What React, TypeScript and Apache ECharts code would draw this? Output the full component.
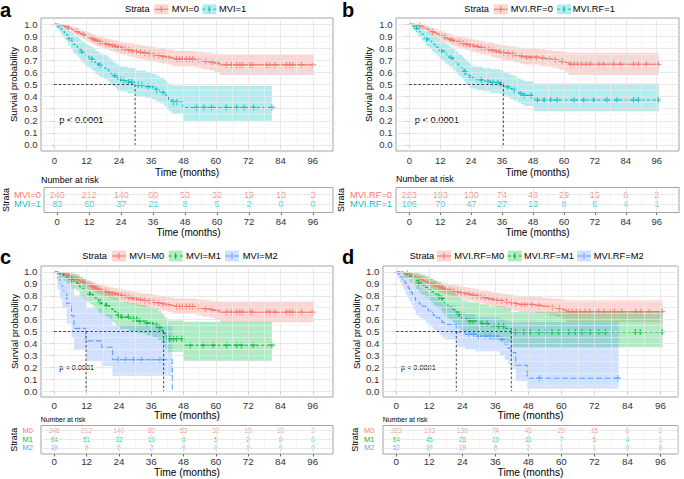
import React, { useEffect, useRef } from 'react';
import * as echarts from 'echarts';

type Row = [number, number, number, number]; // time, survival, lower CI, upper CI

const FONT = '"Liberation Sans", Arial, Helvetica, sans-serif';
const RED = '#F8766D';
const TEAL = '#00BFC4';
const GREEN = '#00BA38';
const BLUE = '#619CFF';

const timeTicks = [0, 12, 24, 36, 48, 60, 72, 84, 96];
const timeMinor = [6, 18, 30, 42, 54, 66, 78, 90, 102];
const probTicks = [0, 0.1, 0.2, 0.3, 0.4, 0.5, 0.6, 0.7, 0.8, 0.9, 1.0];
const probMinor = [0.05, 0.15, 0.25, 0.35, 0.45, 0.55, 0.65, 0.75, 0.85, 0.95];

// ---------- Kaplan-Meier estimates ----------
const kmMvi0: Row[] = [
  [0, 1, 1, 1], [1.2, .996, .988, 1], [2.1, .992, .981, 1], [3.0, .988, .975, 1],
  [3.8, .980, .963, .997], [4.7, .972, .952, .992], [5.5, .963, .940, .986], [6.3, .955, .930, .980],
  [7.2, .946, .919, .974], [8.0, .938, .909, .968], [8.9, .929, .898, .961], [9.6, .921, .888, .955],
  [10.5, .912, .877, .948], [11.3, .904, .868, .941], [12.1, .895, .858, .934], [13.0, .886, .848, .926],
  [13.8, .878, .839, .919], [14.6, .869, .829, .911], [15.5, .860, .819, .903], [16.3, .852, .810, .896],
  [17.4, .845, .802, .890], [18.6, .838, .794, .884], [19.7, .831, .786, .878], [20.8, .824, .778, .872],
  [22.0, .816, .769, .866], [23.3, .809, .761, .860], [24.5, .802, .753, .854], [25.7, .795, .745, .848],
  [27.0, .788, .737, .842], [28.4, .780, .728, .836], [29.9, .773, .720, .830], [31.3, .766, .712, .824],
  [33.0, .760, .705, .819], [34.8, .754, .698, .814], [36.5, .747, .690, .808], [38.2, .740, .682, .802],
  [39.9, .733, .674, .796], [41.6, .726, .666, .790], [43.4, .718, .657, .784], [44.6, .710, .648, .777],
  [52.5, .700, .636, .770], [55.0, .692, .626, .764], [57.8, .684, .616, .758], [59.6, .676, .604, .754],
  [61.5, .662, .578, .750], [96.4, .662, .578, .750],
];
const censMvi0 = [5.2, 8.5, 10.9, 14.2, 15.0, 16.0, 17.0, 18.2, 19.2, 20.3, 21.5, 22.6, 23.8, 25.0, 26.3,
  27.6, 29.0, 30.5, 32.0, 33.6, 35.2, 37.0, 38.8, 40.4, 42.2, 45.4, 46.5, 47.6, 49.0, 50.2, 51.3, 53.8,
  56.2, 58.6, 60.4, 63.9, 65.8, 67.7, 68.9, 69.8, 72.6, 73.5, 78.8, 80.0, 82.0, 86.2, 87.4, 88.6, 91.8, 96.1];

const kmMvi1: Row[] = [
  [0, 1, 1, 1], [0.7, .988, .966, 1], [1.3, .976, .948, 1], [2.0, .964, .930, 1],
  [2.6, .952, .912, .994], [3.2, .940, .896, .986], [3.7, .928, .880, .978], [4.3, .916, .864, .970],
  [4.8, .904, .849, .962], [5.2, .880, .819, .945], [5.9, .868, .804, .936], [6.5, .855, .789, .927],
  [7.0, .831, .760, .908], [7.8, .819, .746, .899], [8.6, .807, .732, .890], [9.2, .795, .718, .880],
  [9.8, .771, .691, .861], [10.6, .759, .677, .851], [11.4, .747, .664, .841], [12.0, .735, .651, .831],
  [12.8, .722, .637, .820], [13.6, .710, .624, .810], [14.4, .698, .611, .799], [15.2, .673, .585, .777],
  [16.4, .661, .572, .766], [17.0, .649, .560, .755], [18.2, .636, .546, .744], [19.4, .624, .534, .733],
  [20.2, .611, .520, .721], [20.8, .598, .507, .709], [21.3, .585, .494, .697], [22.0, .572, .481, .685],
  [22.8, .559, .468, .673], [23.4, .546, .455, .661], [24.6, .533, .442, .649], [27.2, .520, .428, .637],
  [30.0, .497, .405, .615], [34.0, .483, .391, .602], [36.4, .468, .375, .588], [37.8, .453, .360, .574],
  [39.2, .436, .343, .558], [40.8, .416, .322, .540], [41.6, .396, .302, .522], [42.4, .376, .282, .505],
  [43.6, .354, .260, .492], [47.8, .310, .200, .488], [80.8, .310, .200, .488],
];
const censMvi1 = [5.8, 10.1, 13.9, 16.9, 22.5, 24.4, 25.8, 27.6, 28.7, 31.2, 32.5, 34.8, 36.1, 38.0, 40.4,
  44.2, 45.5, 52.8, 55.5, 58.4, 63.9, 67.7, 70.5, 74.0, 80.8];

const kmRf0: Row[] = [
  [0, 1, 1, 1], [1.5, .995, .986, 1], [2.6, .991, .978, 1], [3.6, .986, .970, 1],
  [4.5, .982, .964, 1], [5.3, .973, .952, .994], [6.2, .964, .940, .988], [7.0, .955, .929, .982],
  [7.8, .946, .918, .975], [8.6, .937, .906, .968], [9.5, .928, .896, .961], [10.5, .919, .885, .954],
  [11.5, .910, .874, .947], [12.4, .901, .864, .940], [13.3, .892, .853, .933], [14.3, .883, .843, .926],
  [15.3, .874, .833, .918], [16.2, .865, .822, .911], [17.4, .856, .812, .904], [18.8, .850, .805, .898],
  [20.2, .841, .795, .891], [21.6, .834, .787, .885], [23.0, .827, .779, .879], [24.3, .820, .771, .873],
  [25.8, .813, .763, .867], [27.2, .806, .755, .861], [28.7, .799, .747, .855], [30.2, .792, .739, .849],
  [31.6, .784, .730, .843], [33.0, .777, .722, .837], [34.5, .770, .714, .831], [35.8, .762, .705, .825],
  [37.4, .757, .699, .820], [39.2, .751, .692, .815], [41.0, .743, .683, .809], [42.8, .735, .674, .802],
  [44.5, .727, .665, .796], [50.5, .719, .655, .790], [53.0, .711, .645, .784], [55.5, .702, .634, .778],
  [58.0, .693, .622, .772], [60.5, .682, .606, .767], [61.8, .667, .578, .762], [96.8, .667, .578, .762],
];
const censRf0 = [4.0, 9.0, 13.8, 15.8, 16.8, 17.9, 19.4, 20.9, 22.3, 23.6, 25.0, 26.5, 27.9, 29.4, 30.9,
  32.3, 33.7, 35.1, 36.6, 38.3, 40.1, 41.9, 43.6, 45.5, 46.8, 48.0, 49.3, 51.8, 54.2, 56.7, 59.3, 62.6,
  63.9, 65.4, 66.7, 68.6, 70.3, 73.5, 75.4, 78.0, 79.3, 81.9, 87.0, 88.9, 92.0, 96.6];

const kmRf1: Row[] = [
  [0, 1, 1, 1], [0.8, .991, .972, 1], [1.5, .981, .955, 1], [2.2, .972, .940, 1],
  [2.8, .962, .926, 1], [3.4, .943, .900, .989], [4.2, .934, .888, .982], [4.9, .915, .864, .968],
  [5.6, .896, .841, .954], [6.4, .877, .818, .940], [7.2, .868, .807, .933], [8.0, .858, .795, .925],
  [8.7, .839, .773, .910], [9.6, .829, .762, .902], [10.4, .810, .740, .887], [11.2, .800, .729, .879],
  [12.0, .781, .708, .863], [12.9, .771, .697, .855], [13.8, .752, .676, .839], [14.6, .742, .665, .830],
  [15.5, .723, .645, .814], [16.4, .713, .634, .805], [17.2, .694, .614, .789], [18.0, .675, .594, .772],
  [18.9, .655, .573, .754], [19.8, .645, .563, .745], [20.6, .626, .543, .728], [21.3, .606, .523, .710],
  [22.0, .587, .503, .692], [22.8, .577, .493, .683], [23.6, .558, .474, .665], [24.6, .548, .464, .656],
  [26.2, .538, .454, .646], [28.4, .528, .443, .637], [31.5, .517, .432, .627], [35.2, .507, .421, .617],
  [36.5, .494, .408, .605], [38.0, .480, .393, .592], [39.3, .466, .379, .579], [40.6, .452, .365, .566],
  [41.9, .438, .351, .553], [43.2, .424, .337, .540], [44.6, .410, .322, .527], [48.4, .372, .278, .508],
  [96.8, .372, .278, .508],
];
const censRf1 = [2.8, 6.7, 12.5, 16.3, 21.5, 24.0, 27.9, 30.5, 32.4, 34.3, 35.6, 38.2, 40.7, 43.3, 44.6,
  47.2, 49.7, 52.3, 54.9, 57.4, 63.9, 67.7, 71.6, 76.7, 80.6, 87.0, 88.9, 96.6];

const kmM1: Row[] = [
  [0, 1, 1, 1], [1.8, .984, .954, 1], [3.4, .969, .927, 1], [4.6, .953, .903, 1],
  [6.0, .938, .881, .998], [6.8, .922, .860, .988], [8.2, .906, .839, .978], [9.4, .875, .800, .957],
  [10.6, .859, .781, .946], [11.5, .844, .763, .934], [12.0, .828, .745, .922], [13.2, .812, .727, .910],
  [14.4, .797, .709, .898], [15.3, .781, .692, .886], [16.4, .750, .657, .861], [17.4, .734, .640, .848],
  [19.0, .718, .623, .835], [20.5, .702, .606, .822], [21.4, .686, .589, .809], [22.0, .670, .572, .795],
  [22.8, .654, .555, .781], [23.6, .637, .537, .767], [24.2, .621, .520, .752], [27.6, .604, .503, .738],
  [31.0, .587, .485, .723], [34.2, .570, .467, .708], [36.6, .552, .448, .692], [38.6, .533, .428, .675],
  [39.8, .511, .405, .655], [40.6, .487, .380, .634], [41.2, .463, .355, .613], [41.8, .439, .330, .592],
  [48.0, .385, .255, .582], [80.8, .385, .255, .582],
];
const censM1 = [6.4, 13.2, 17.0, 19.4, 23.8, 25.0, 27.5, 29.3, 30.5, 31.8, 34.3, 36.1, 38.0, 39.2, 42.9,
  44.2, 45.4, 47.3, 50.5, 55.3, 59.0, 64.0, 67.7, 69.5, 73.9, 80.8];

const kmM2: Row[] = [
  [0, 1, 1, 1], [1.2, .947, .852, 1], [2.1, .895, .774, 1], [3.0, .842, .700, 1],
  [4.6, .737, .568, .955], [6.4, .632, .450, .887], [7.3, .526, .345, .803], [11.8, .421, .255, .695],
  [17.6, .368, .210, .645], [21.6, .263, .128, .555], [43.8, 0, .128, .555],
];
const censM2 = [23.8, 26.5, 29.5, 32.4, 36.1, 39.2];

const kmRfM1: Row[] = [
  [0, 1, 1, 1], [2.6, .981, .946, 1], [4.8, .963, .914, 1], [6.2, .944, .884, 1],
  [7.2, .926, .857, .999], [7.9, .907, .832, .989], [9.0, .889, .808, .978], [10.6, .870, .784, .966],
  [11.8, .852, .761, .954], [12.8, .833, .739, .940], [13.6, .815, .717, .927], [14.8, .796, .696, .913],
  [16.2, .778, .675, .899], [16.8, .759, .654, .884], [17.4, .741, .634, .869], [18.1, .722, .614, .855],
  [19.2, .703, .594, .840], [20.6, .684, .574, .825], [21.6, .665, .554, .810], [22.2, .646, .534, .794],
  [23.0, .627, .515, .778], [23.8, .608, .495, .762], [26.2, .588, .475, .746], [30.4, .567, .453, .729],
  [33.6, .546, .431, .712], [39.8, .524, .408, .694], [41.8, .496, .368, .665], [96.8, .496, .368, .665],
];
const censRfM1 = [8.1, 15.4, 16.6, 22.7, 26.8, 27.9, 31.2, 33.0, 36.0, 37.2, 39.0, 43.3, 46.3, 48.7, 51.8,
  54.2, 56.6, 59.0, 62.7, 65.1, 67.5, 70.5, 73.6, 76.0, 86.9, 88.7, 96.6];

const kmRfM2: Row[] = [
  [0, 1, 1, 1], [0.6, .981, .944, 1], [1.3, .962, .911, 1], [2.0, .942, .881, 1],
  [2.6, .923, .852, 1], [3.2, .904, .826, .989], [3.7, .885, .800, .978], [4.3, .865, .775, .966],
  [4.8, .846, .751, .953], [5.4, .827, .727, .940], [5.9, .808, .704, .926], [6.5, .788, .681, .912],
  [7.0, .750, .637, .883], [8.4, .731, .616, .868], [9.6, .712, .595, .852], [10.8, .692, .574, .836],
  [11.6, .673, .553, .820], [12.6, .654, .533, .803], [13.5, .635, .513, .787], [14.6, .615, .492, .770],
  [15.8, .596, .472, .753], [16.6, .577, .453, .736], [17.4, .558, .433, .718], [21.8, .496, .370, .665],
  [25.0, .476, .350, .647], [28.8, .461, .335, .620], [37.6, .432, .303, .600], [39.4, .396, .262, .590],
  [40.6, .360, .222, .585], [41.6, .324, .185, .580], [43.4, .216, .085, .578], [47.6, .108, .022, .580],
  [80.8, .108, .022, .580],
];
const censRfM2 = [26.3, 28.1, 29.9, 32.4, 34.2, 36.0, 38.4, 52.0, 80.6];

// ---------- Number at risk ----------
const riskMvi0 = [246, 212, 140, 80, 53, 32, 19, 10, 3];
const riskMvi1 = [83, 60, 37, 21, 8, 5, 2, 0, 0];
const riskRf0 = [223, 193, 130, 74, 48, 29, 15, 6, 2];
const riskRf1 = [106, 79, 47, 27, 13, 8, 6, 4, 1];
const riskM0 = [246, 212, 140, 80, 53, 32, 19, 10, 3];
const riskM1 = [64, 51, 32, 19, 8, 5, 2, 0, 0];
const riskM2 = [19, 9, 5, 2, 0, 0, 0, 0, 0];
const riskRfM0 = [223, 193, 130, 74, 48, 29, 15, 6, 2];
const riskRfM1 = [54, 45, 28, 19, 11, 7, 5, 4, 1];
const riskRfM2 = [52, 34, 19, 8, 2, 1, 1, 0, 0];

const DASH2 = [3, 2.5];
const DASH3 = [6, 2.5];
const PLUS = 'path://M4,0H6V4H10V6H6V10H4V6H0V4H4Z';

interface CurveDef { name: string; label: string; rows: Row[]; censor: number[]; risk: number[]; color: string; dash: number[] | null; }
interface Box { left: number; top: number; width: number; height: number; }
interface PanelDef {
  letter: string; letterX: number; letterY: number;
  plot: Box; xMin: number; xMax: number; table: Box; tMin: number; tMax: number;
  curves: CurveDef[]; small: boolean;
  yNameGap: number; xNameGap: number; xLabelMargin: number; tLabelMargin: number; tNameGap: number;
  strataGap: number; rowLabelMargin: number;
  pval: [number, number]; nar: [number, number];
  legendY: number; strataX: number; keyX: number[]; labelX: number[]; keyH: number;
}

const panels: PanelDef[] = [
  {
    letter: 'a', letterX: 0, letterY: 10,
    plot: { left: 41, top: 18, width: 292, height: 133 }, xMin: -4.94, xMax: 103.5,
    table: { left: 41, top: 187.5, width: 292, height: 25 }, tMin: 0.105, tMax: 2.737,
    curves: [
      { name: 'MVI=0', label: 'MVI=0', rows: kmMvi0, censor: censMvi0, risk: riskMvi0, color: RED, dash: null },
      { name: 'MVI=1', label: 'MVI=1', rows: kmMvi1, censor: censMvi1, risk: riskMvi1, color: TEAL, dash: DASH2 },
    ],
    small: false, yNameGap: 23, xNameGap: 16.5, xLabelMargin: 4, tLabelMargin: 4, tNameGap: 15,
    strataGap: 31, rowLabelMargin: 3, pval: [59.3, 120], nar: [41, 179.5],
    legendY: 9.3, strataX: 125, keyX: [154.3, 202.3], labelX: [171.7, 219], keyH: 10,
  },
  {
    letter: 'b', letterX: 342, letterY: 10,
    plot: { left: 396, top: 18, width: 283, height: 133 }, xMin: -5.16, xMax: 104.65,
    table: { left: 396, top: 187.5, width: 283, height: 25 }, tMin: 0.105, tMax: 2.737,
    curves: [
      { name: 'MVI.RF=0', label: 'MVI.RF=0', rows: kmRf0, censor: censRf0, risk: riskRf0, color: RED, dash: null },
      { name: 'MVI.RF=1', label: 'MVI.RF=1', rows: kmRf1, censor: censRf1, risk: riskRf1, color: TEAL, dash: DASH2 },
    ],
    small: false, yNameGap: 22.5, xNameGap: 16.5, xLabelMargin: 4, tLabelMargin: 4, tNameGap: 15,
    strataGap: 44.5, rowLabelMargin: 4, pval: [414.7, 120], nar: [396, 179],
    legendY: 9.3, strataX: 464.3, keyX: [493.7, 557], labelX: [510.7, 572.7], keyH: 10,
  },
  {
    letter: 'c', letterX: 0, letterY: 257,
    plot: { left: 41, top: 266, width: 292, height: 131 }, xMin: -4.94, xMax: 103.5,
    table: { left: 41, top: 425.5, width: 292, height: 28.5 }, tMin: 0.306, tMax: 3.6,
    curves: [
      { name: 'MVI=M0', label: 'M0', rows: kmMvi0, censor: censMvi0, risk: riskM0, color: RED, dash: null },
      { name: 'MVI=M1', label: 'M1', rows: kmM1, censor: censM1, risk: riskM1, color: GREEN, dash: DASH2 },
      { name: 'MVI=M2', label: 'M2', rows: kmM2, censor: censM2, risk: riskM2, color: BLUE, dash: DASH3 },
    ],
    small: true, yNameGap: 22, xNameGap: 13, xLabelMargin: 3, tLabelMargin: 2.5, tNameGap: 12.5,
    strataGap: 18, rowLabelMargin: 8, pval: [59.3, 367.7], nar: [40.7, 419.3],
    legendY: 256, strataX: 82.3, keyX: [112, 168.7, 225], labelX: [129.3, 186, 242.7], keyH: 11,
  },
  {
    letter: 'd', letterX: 342, letterY: 257,
    plot: { left: 383, top: 266, width: 295, height: 131 }, xMin: -4.84, xMax: 102.4,
    table: { left: 383, top: 425.5, width: 295, height: 28.5 }, tMin: 0.306, tMax: 3.6,
    curves: [
      { name: 'MVI.RF=M0', label: 'M0', rows: kmRf0, censor: censRf0, risk: riskRfM0, color: RED, dash: null },
      { name: 'MVI.RF=M1', label: 'M1', rows: kmRfM1, censor: censRfM1, risk: riskRfM1, color: GREEN, dash: DASH2 },
      { name: 'MVI.RF=M2', label: 'M2', rows: kmRfM2, censor: censRfM2, risk: riskRfM2, color: BLUE, dash: DASH3 },
    ],
    small: true, yNameGap: 22, xNameGap: 13, xLabelMargin: 3, tLabelMargin: 2.5, tNameGap: 12.5,
    strataGap: 19, rowLabelMargin: 8.7, pval: [401, 367.3], nar: [382.7, 419.3],
    legendY: 256, strataX: 409.7, keyX: [437, 507.7, 577], labelX: [454.3, 524, 593.7], keyH: 11,
  },
];

function survAt(rows: Row[], t: number): number {
  let s = rows[0][1];
  for (const r of rows) {
    if (r[0] <= t) s = r[1];
    else break;
  }
  return s;
}
function medianOf(rows: Row[]): number | null {
  for (const r of rows) if (r[1] <= 0.5) return r[0];
  return null;
}
function rgba(hex: string, a: number): string {
  const n = parseInt(hex.slice(1), 16);
  return `rgba(${(n >> 16) & 255},${(n >> 8) & 255},${n & 255},${a})`;
}

const MAJOR = { color: '#e3e3e3', width: 0.8, type: 'solid' };
const MINOR = { color: '#f1f1f1', width: 0.6, type: 'solid' };

function gridLines(idx: number, xMax: number, yMajor: number[], yMinor: number[]) {
  const data: any[] = [];
  timeMinor.filter((v) => v <= xMax).forEach((v) => data.push({ xAxis: v, lineStyle: MINOR }));
  yMinor.forEach((v) => data.push({ yAxis: v, lineStyle: MINOR }));
  timeTicks.forEach((v) => data.push({ xAxis: v, lineStyle: MAJOR }));
  yMajor.forEach((v) => data.push({ yAxis: v, lineStyle: MAJOR }));
  return {
    type: 'line', xAxisIndex: idx, yAxisIndex: idx, data: [], symbol: 'none', silent: true, z: 1,
    markLine: { silent: true, symbol: ['none', 'none'], label: { show: false }, animation: false, data },
  };
}

function bandSeries(gi: number, c: CurveDef) {
  const rows = c.rows;
  return {
    type: 'custom', xAxisIndex: gi, yAxisIndex: gi, silent: true, z: 2,
    data: rows.map((r) => [r[0], r[2], r[3]]),
    encode: { x: 0, y: [1, 2] },
    renderItem: (params: any, api: any) => {
      if (params.dataIndex !== 0) return null;
      const pts: number[][] = [];
      for (let k = 0; k < rows.length; k++) {
        if (k > 0) pts.push(api.coord([rows[k][0], rows[k - 1][3]]));
        pts.push(api.coord([rows[k][0], rows[k][3]]));
      }
      for (let k = rows.length - 1; k >= 0; k--) {
        pts.push(api.coord([rows[k][0], rows[k][2]]));
        if (k > 0) pts.push(api.coord([rows[k][0], rows[k - 1][2]]));
      }
      return { type: 'polygon', shape: { points: pts }, style: { fill: rgba(c.color, 0.3), stroke: 'none' } };
    },
  };
}

function buildOption() {
  const grids: any[] = [];
  const xAxes: any[] = [];
  const yAxes: any[] = [];
  const series: any[] = [];
  const graphic: any[] = [];

  panels.forEach((p, pi) => {
    const gi = pi * 2;
    const ti = gi + 1;
    const tickFs = p.small ? 9.8 : 9.5;
    const titleFs = p.small ? 10.3 : 10;
    const numFs = p.small ? 6.5 : 9;
    const rowFs = p.small ? 7.5 : 9.3;
    const nRows = p.curves.length;

    grids.push({ ...p.plot, show: true, borderColor: '#a3a3a3', borderWidth: 1, backgroundColor: '#fff', containLabel: false });
    grids.push({ ...p.table, show: true, borderColor: '#a3a3a3', borderWidth: 1, backgroundColor: '#fff', containLabel: false });

    const tick = { show: true, length: 2.5, lineStyle: { color: '#444', width: 0.8 } };
    xAxes.push({
      gridIndex: gi, type: 'value', min: p.xMin, max: p.xMax,
      axisLine: { show: false }, splitLine: { show: false },
      axisTick: { ...tick, customValues: timeTicks },
      axisLabel: { customValues: timeTicks, margin: p.xLabelMargin, fontSize: tickFs, color: '#333', fontFamily: FONT },
      name: 'Time (months)', nameLocation: 'middle', nameGap: p.xNameGap,
      nameTextStyle: { fontSize: titleFs, color: '#000', fontFamily: FONT },
    });
    yAxes.push({
      gridIndex: gi, type: 'value', min: -0.05, max: 1.05,
      axisLine: { show: false }, splitLine: { show: false },
      axisTick: { ...tick, customValues: probTicks },
      axisLabel: { customValues: probTicks, margin: 3.5, fontSize: tickFs, color: '#333', fontFamily: FONT,
        formatter: (v: number) => v.toFixed(1) },
      name: 'Survial probability', nameLocation: 'middle', nameRotate: 90, nameGap: p.yNameGap,
      nameTextStyle: { fontSize: 9.5, color: '#000', fontFamily: FONT },
    });
    const rowVals = p.curves.map((_, i) => nRows - i);
    const rich: any = {};
    p.curves.forEach((c, i) => { rich['r' + i] = { color: c.color, fontSize: rowFs, fontFamily: FONT }; });
    xAxes.push({
      gridIndex: ti, type: 'value', min: p.xMin, max: p.xMax,
      axisLine: { show: false }, splitLine: { show: false },
      axisTick: { ...tick, customValues: timeTicks },
      axisLabel: { customValues: timeTicks, margin: p.tLabelMargin, fontSize: tickFs, color: '#333', fontFamily: FONT },
      name: 'Time (months)', nameLocation: 'middle', nameGap: p.tNameGap,
      nameTextStyle: { fontSize: titleFs, color: '#000', fontFamily: FONT },
    });
    yAxes.push({
      gridIndex: ti, type: 'value', min: p.tMin, max: p.tMax,
      axisLine: { show: false }, splitLine: { show: false },
      axisTick: { ...tick, customValues: rowVals },
      axisLabel: {
        customValues: rowVals, margin: p.rowLabelMargin, fontSize: rowFs, fontFamily: FONT,
        formatter: (v: number) => {
          const i = nRows - Math.round(v);
          return `{r${i}|${p.curves[i] ? p.curves[i].label : ''}}`;
        },
        rich,
      },
      name: 'Strata', nameLocation: 'middle', nameRotate: 90, nameGap: p.strataGap,
      nameTextStyle: { fontSize: 9, color: '#000', fontFamily: FONT },
    });

    series.push(gridLines(gi, p.xMax, probTicks, probMinor));
    series.push(gridLines(ti, p.xMax, rowVals, []));

    const medians: number[] = [];
    p.curves.forEach((c) => series.push(bandSeries(gi, c)));
    p.curves.forEach((c) => {
      series.push({
        type: 'line', name: c.name, xAxisIndex: gi, yAxisIndex: gi, step: 'end', symbol: 'none', silent: true, z: 3,
        data: c.rows.map((r) => [r[0], r[1]]),
        lineStyle: { color: c.color, width: 1.1, type: c.dash ? c.dash : 'solid' },
      });
      series.push({
        type: 'scatter', xAxisIndex: gi, yAxisIndex: gi, symbol: PLUS, symbolSize: 6, silent: true, z: 4,
        data: c.censor.map((t) => [t, survAt(c.rows, t)]), itemStyle: { color: c.color },
      });
      const m = medianOf(c.rows);
      if (m !== null) medians.push(m);
    });
    if (medians.length) {
      const mx = Math.max(...medians);
      const dashed = { color: '#000', width: 0.7, type: [2.5, 2] };
      series.push({
        type: 'line', xAxisIndex: gi, yAxisIndex: gi, symbol: 'none', silent: true, z: 5,
        data: [[0, 0.5], [mx, 0.5]], lineStyle: dashed,
      });
      medians.forEach((m) => {
        series.push({
          type: 'line', xAxisIndex: gi, yAxisIndex: gi, symbol: 'none', silent: true, z: 5,
          data: [[m, 0.5], [m, 0]], lineStyle: dashed,
        });
      });
    }

    p.curves.forEach((c, i) => {
      series.push({
        type: 'scatter', xAxisIndex: ti, yAxisIndex: ti, symbolSize: 1, silent: true, z: 4,
        itemStyle: { color: 'transparent' },
        data: timeTicks.map((t, k) => [t, nRows - i, c.risk[k]]),
        label: { show: true, position: 'inside', formatter: (q: any) => String(q.value[2]),
          color: c.color, fontSize: numFs, fontFamily: FONT },
      });
    });

    graphic.push({
      type: 'text', x: p.letterX, y: p.letterY,
      style: { text: p.letter, fontSize: 20, fontWeight: 'bold', fontFamily: FONT, fill: '#000',
        textAlign: 'left', textVerticalAlign: 'middle', align: 'left', verticalAlign: 'middle' },
    });
    graphic.push({
      type: 'text', x: p.pval[0], y: p.pval[1],
      style: { text: 'p < 0.0001', fontSize: p.small ? 7.3 : 9.3, fontFamily: FONT, fill: '#000',
        textAlign: 'left', textVerticalAlign: 'middle', align: 'left', verticalAlign: 'middle' },
    });
    graphic.push({
      type: 'text', x: p.nar[0], y: p.nar[1],
      style: { text: 'Number at risk', fontSize: p.small ? 6.9 : 8.9, fontFamily: FONT, fill: '#000',
        textAlign: 'left', textVerticalAlign: 'middle', align: 'left', verticalAlign: 'middle' },
    });
    graphic.push({
      type: 'text', x: p.strataX, y: p.legendY,
      style: { text: 'Strata', fontSize: 9.2, fontFamily: FONT, fill: '#000',
        textAlign: 'left', textVerticalAlign: 'middle', align: 'left', verticalAlign: 'middle' },
    });
    p.curves.forEach((c, i) => {
      const kx = p.keyX[i];
      const kw = 14;
      const cy = p.legendY;
      graphic.push({
        type: 'rect', shape: { x: kx, y: cy - p.keyH / 2, width: kw, height: p.keyH },
        style: { fill: rgba(c.color, 0.3) },
      });
      graphic.push({
        type: 'line', shape: { x1: kx, y1: cy, x2: kx + kw, y2: cy },
        style: { stroke: c.color, lineWidth: 1.1, lineDash: c.dash ? c.dash : null },
      });
      graphic.push({
        type: 'line', shape: { x1: kx + kw / 2, y1: cy - 3, x2: kx + kw / 2, y2: cy + 3 },
        style: { stroke: c.color, lineWidth: 1.1 },
      });
      graphic.push({
        type: 'text', x: p.labelX[i], y: cy,
        style: { text: c.name, fontSize: 9.3, fontFamily: FONT, fill: '#000',
          textAlign: 'left', textVerticalAlign: 'middle', align: 'left', verticalAlign: 'middle' },
      });
    });
  });

  return {
    animation: false,
    backgroundColor: '#fff',
    textStyle: { fontFamily: FONT },
    grid: grids,
    xAxis: xAxes,
    yAxis: yAxes,
    series,
    graphic,
  };
}

export default function App() {
  const ref = useRef<HTMLDivElement>(null);
  useEffect(() => {
    if (!ref.current) return;
    const chart = echarts.init(ref.current, undefined, { renderer: 'svg' });
    chart.setOption(buildOption() as any);
    return () => chart.dispose();
  }, []);
  return <div ref={ref} style={{ position: 'absolute', left: 0, top: 0, width: 684, height: 479 }} />;
}
